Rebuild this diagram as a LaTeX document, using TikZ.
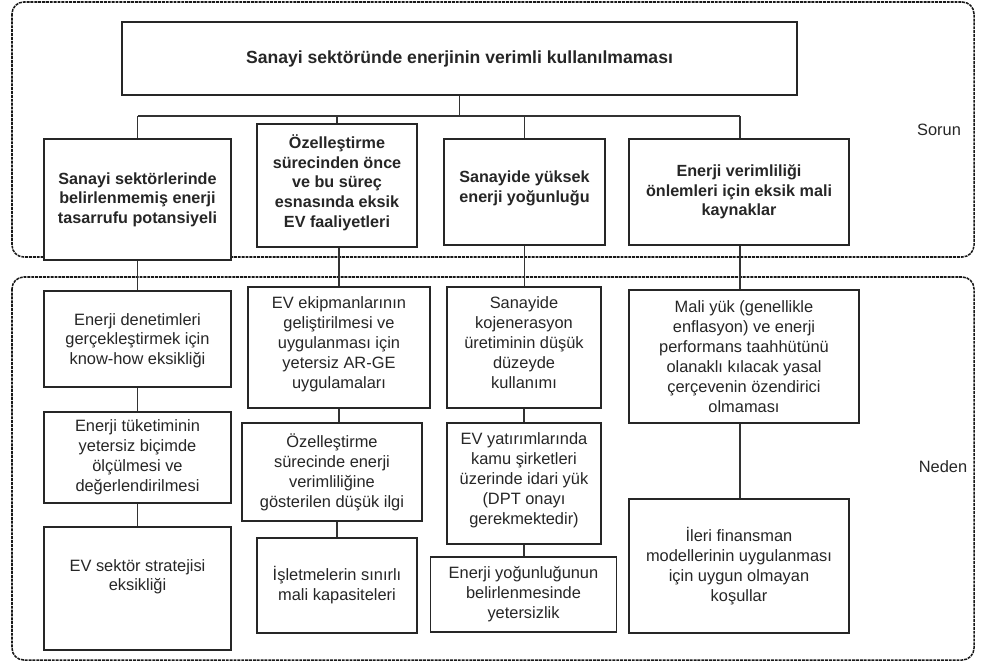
\documentclass[tikz,border=0pt]{standalone}
\usepackage{fontspec}
\setmainfont{Liberation Sans}
\usetikzlibrary{positioning}

\tikzset{
  cerceve/.style = {draw=black!90, line width=1.3pt, dash pattern=on 2.5pt off 0.8pt, rounded corners=10pt},
  kutu/.style = {draw=black!85, fill=white, line width=1.1pt, align=center, inner sep=2pt,
                 text=black!85, font=\fontsize{14}{17}\selectfont},
  sorunkutu/.style = {kutu, font=\fontsize{13.8}{16.8}\selectfont\bfseries},
  baglanti/.style = {draw=black!80, line width=0.9pt},
  etiket/.style = {text=black!85, font=\fontsize{14}{17}\selectfont}
}

\begin{document}
\begin{tikzpicture}[x = 0.03cm, y = -0.03cm]

        \useasboundingbox (0, 0) rectangle (981, 663);

        % Dashed frames for the two levels.
        \draw[cerceve] (12, 2) rectangle (974, 257);
        \draw[cerceve] (12, 277) rectangle (974, 660);

        % Problem level.
        \node[sorunkutu, minimum width = 20.25cm, minimum height = 2.19cm,
              font = \fontsize{15}{18}\selectfont\bfseries] (title) at (459.5, 58.5)
              {Sanayi sektöründe enerjinin verimli kullanılmaması};
        \node[sorunkutu, minimum width = 5.61cm, minimum height = 3.63cm] (b1) at (137.5, 199.5)
              {Sanayi sektörlerinde\\belirlenmemiş enerji\\tasarrufu potansiyeli};
        \node[sorunkutu, minimum width = 4.8cm, minimum height = 3.69cm] (b2) at (337, 185.5)
              {Özelleştirme\\sürecinden önce\\ve bu süreç\\esnasında eksik\\EV faaliyetleri\\[-9pt]};
        \node[sorunkutu, minimum width = 4.83cm, minimum height = 3.18cm] (b3) at (524.5, 192)
              {Sanayide yüksek\\enerji yoğunluğu\\[-8pt]};
        \node[sorunkutu, minimum width = 6.6cm, minimum height = 3.18cm] (b4) at (739, 192)
              {Enerji verimliliği\\önlemleri için eksik mali\\kaynaklar};

        % Connectors from the main problem.
        \coordinate (barL) at (137.5, 116);
        \coordinate (barR) at (740, 116);
        \draw[baglanti] (title.south) -- (title.south |- barL);
        \draw[baglanti] (barL) -- (barR);
        \draw[baglanti] (barL) -- (b1.north);
        \draw[baglanti] (b2.north |- barL) -- (b2.north);
        \draw[baglanti] (b3.north |- barL) -- (b3.north);
        \draw[baglanti] (barR) -- (barR |- b4.north);

        \node[etiket] (sorun) at (939, 130) {Sorun};
        \node[etiket] (neden) at (943, 467) {Neden};

        % Cause level, column 1.
        \node[kutu, minimum width = 5.61cm, minimum height = 2.88cm] (c11) at (137.5, 339)
              {~\\[-4pt]Enerji denetimleri\\gerçekleştirmek için\\know-how eksikliği};
        \node[kutu, minimum width = 5.61cm, minimum height = 2.73cm] (c12) at (137.5, 457.5)
              {Enerji tüketiminin\\yetersiz biçimde\\ölçülmesi ve\\değerlendirilmesi};
        \node[kutu, minimum width = 5.61cm, minimum height = 3.69cm] (c13) at (137.5, 588.5)
              {EV sektör stratejisi\\eksikliği\\[6pt]~};

        % Column 2.
        \node[kutu, minimum width = 5.46cm, minimum height = 3.63cm] (c21) at (339, 347.5)
              {EV ekipmanlarının\\geliştirilmesi ve\\uygulanması için\\yetersiz AR-GE\\uygulamaları\\[-9pt]};
        \node[kutu, minimum width = 5.4cm, minimum height = 2.94cm] (c22) at (332, 472)
              {Özelleştirme\\sürecinde enerji\\verimliliğine\\gösterilen düşük ilgi};
        \node[kutu, minimum width = 4.8cm, minimum height = 2.85cm] (c23) at (337, 585.5)
              {İşletmelerin sınırlı\\mali kapasiteleri};

        % Column 3.
        \node[kutu, minimum width = 4.62cm, minimum height = 3.63cm] (c31) at (524, 347.5)
              {Sanayide\\kojenerasyon\\üretiminin düşük\\düzeyde\\kullanımı\\[-9pt]};
        \node[kutu, minimum width = 4.62cm, minimum height = 3.63cm] (c32) at (524, 483.5)
              {EV yatırımlarında\\kamu şirketleri\\üzerinde idari yük\\(DPT onayı\\gerekmektedir)\\[-9pt]};
        \node[kutu, minimum width = 5.58cm, minimum height = 2.25cm] (c33) at (523.5, 594.5)
              {Enerji yoğunluğunun\\belirlenmesinde\\yetersizlik};

        % Column 4.
        \node[kutu, minimum width = 6.9cm, minimum height = 3.99cm] (c41) at (744, 356.5)
              {Mali yük (genellikle\\enflasyon) ve enerji\\performans taahhütünü\\olanaklı kılacak yasal\\çerçevenin özendirici\\olmaması};
        \node[kutu, minimum width = 6.6cm, minimum height = 4.02cm] (c42) at (739, 566)
              {İleri finansman\\modellerinin uygulanması\\için uygun olmayan\\koşullar};

        % Connectors down the columns.
        \draw[baglanti] (b1.south) -- (c11.north);
        \draw[baglanti] (c11.south) -- (c12.north);
        \draw[baglanti] (c12.south) -- (c13.north);
        \draw[baglanti] (b2.south -| c21.north) -- (c21.north);
        \draw[baglanti] (c21.south) -- (c21.south |- c22.north);
        \draw[baglanti] (c23.north |- c22.south) -- (c23.north);
        \draw[baglanti] (b3.south) -- (b3.south |- c31.north);
        \draw[baglanti] (c31.south) -- (c32.north);
        \draw[baglanti] (c32.south) -- (c32.south |- c33.north);
        \draw[baglanti] (barR |- b4.south) -- (barR |- c41.north);
        \draw[baglanti] (barR |- c41.south) -- (barR |- c42.north);
    \end{tikzpicture}
\end{document}
